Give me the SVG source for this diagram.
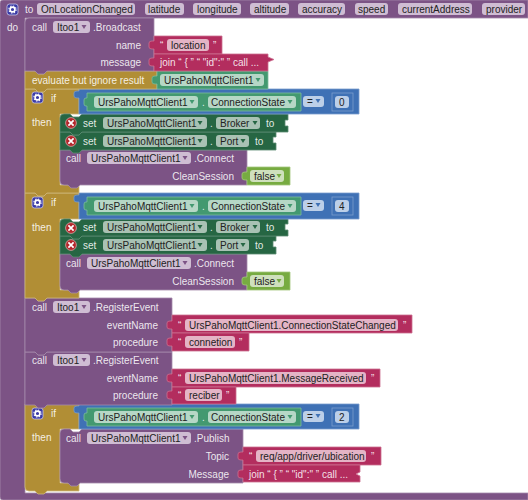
<svg xmlns="http://www.w3.org/2000/svg" width="528" height="500" viewBox="0 0 528 500">
<style>
text{font-family:"Liberation Sans",Arial,sans-serif;font-size:10px;fill:#fff;fill-opacity:.88;transform:translateY(-.5px)}
text.d{fill:#222;fill-opacity:1}
text.e{text-anchor:end}
.p{fill:#7c5385;stroke:#a48cab;stroke-width:.8}
.g{fill:#b18e35;stroke:#cdb77c;stroke-width:.8}
.s{fill:#266643;stroke:#5c8c72;stroke-width:.8}
.c{fill:#439970;stroke:#7bbb9c;stroke-width:.8}
.b{fill:#3f71b5;stroke:#7a9dcd;stroke-width:.8}
.t{fill:#b32d5e;stroke:#cc6f91;stroke-width:.8}
.l{fill:#77ab41;stroke:#a2c67c;stroke-width:.8}
.fp{fill:#cfbdd3}
.ft{fill:#e4b4c6}
.fc{fill:#b6d7c6}
.fs{fill:#a9c2b4}
.fb{fill:#bccfe8}
.fl{fill:#cfe0bd}
.tp{fill:#7c5385}
.tc{fill:#439970}
.tb{fill:#3f71b5}
.tl{fill:#77ab41}
.ts{fill:#266643}
</style>
<defs>
<g id="gear"><rect x="0" y="0" width="11" height="11" rx="2.5" fill="#3a3aa6" stroke="#c9c9ea" stroke-width=".8"/><circle cx="5.5" cy="5.5" r="2.4" fill="none" stroke="#fff" stroke-width="1.6"/><circle cx="5.5" cy="5.5" r="3.6" fill="none" stroke="#fff" stroke-width="1.1" stroke-dasharray="1.4 1.43"/></g>
<g id="err"><circle r="5.4" fill="#b3262b" stroke="#e3b7b8" stroke-width=".7"/><path d="M-2.6,-2.6L2.6,2.6M2.6,-2.6L-2.6,2.6" stroke="#fff" stroke-width="1.7"/></g>
<path id="tri" d="M-2.5,-2H2.5L0,2Z"/>
</defs>

<g id="event-onlocationchanged">
<path class="p" d="M3,0H528V18H25V493H528V500H3Q0,500 0,497V3Q0,0 3,0Z"/>
<use href="#gear" x="7" y="4"/>
<text x="25" y="13">to</text>
<rect class="fp" x="37" y="3" width="98" height="12" rx="3"/><text class="d" x="41" y="13">OnLocationChanged</text>
<rect class="fp" x="145" y="3" width="39" height="12" rx="3"/><text class="d" x="148" y="13">latitude</text>
<rect class="fp" x="193" y="3" width="48" height="12" rx="3"/><text class="d" x="197" y="13">longitude</text>
<rect class="fp" x="250" y="3" width="39" height="12" rx="3"/><text class="d" x="254" y="13">altitude</text>
<rect class="fp" x="298" y="3" width="47" height="12" rx="3"/><text class="d" x="302" y="13">accuracy</text>
<rect class="fp" x="355" y="3" width="33" height="12" rx="3"/><text class="d" x="358" y="13">speed</text>
<rect class="fp" x="398" y="3" width="74" height="12" rx="3"/><text class="d" x="402" y="13">currentAddress</text>
<rect class="fp" x="482" y="3" width="43" height="12" rx="3"/><text class="d" x="486" y="13">provider</text>
<text x="7" y="31">do</text>
</g>

<g id="if-3">
<path class="g" d="M25,404H35l3,3h6l3,-3H79V429H60V483H79V491H47l-3,3h-6l-3,-3H29Q25,491 25,487Z"/>
<use href="#gear" x="32" y="408"/><text x="51" y="417">if</text><text x="32" y="441">then</text>
<g id="call-publish">
<path class="p" d="M64,429H70l3,3h6l3,-3H243V447V483H80l-3,3h-6l-3,-3H64Q60,483 60,479V433Q60,429 64,429Z"/>
<text x="66" y="442">call</text>
<rect class="fp" x="87" y="432" width="104" height="12" rx="3"/><text class="d" x="91" y="442">UrsPahoMqttClient1</text><use href="#tri" class="tp" x="185" y="438"/>
<text x="194" y="442">.Publish</text>
<text class="e" x="229" y="460">Topic</text><text class="e" x="229" y="478">Message</text>
</g>
<g id="text-topic">
<path class="t" d="M243,447H381V465H243V460h-2q-3,0 -3,-2v-4q0,-2 3,-2h2Z"/>
<text x="249" y="460">“</text><rect class="ft" x="256" y="450" width="110" height="12" rx="3"/><text class="d" x="260" y="460">req/app/driver/ubication</text><text x="371" y="460">”</text>
</g>
<g id="join-message">
<path class="t" d="M243,465H360V472l-4,2 4,2V482H243V478h-2q-3,0 -3,-2v-4q0,-2 3,-2h2Z"/>
<text x="249" y="478">join “ { ” “ "id":" ” call ...</text>
</g>
<g id="equals-3">
<path class="b" d="M79,404H359V429H79V413h-2q-3,0 -3,-2v-3q0,-2 3,-2h2Z"/>
<path class="c" d="M87,408H301V426H87V421h-1q-2,0 -2,-2v-4q0,-2 2,-2h1Z"/>
<rect class="fc" x="94" y="411" width="104" height="12" rx="3"/><text class="d" x="98" y="421">UrsPahoMqttClient1</text><use href="#tri" class="tc" x="192" y="417"/>
<text x="202" y="421">.</text>
<rect class="fc" x="208" y="411" width="88" height="12" rx="3"/><text class="d" x="211" y="421">ConnectionState</text><use href="#tri" class="tc" x="290" y="417"/>
<rect class="fb" x="303" y="411" width="21" height="11" rx="3"/><text class="d" x="307" y="420">=</text><use href="#tri" class="tb" x="318" y="416"/>
<rect class="b" x="332" y="408" width="21" height="18"/><rect class="fb" x="335" y="411" width="14" height="12" rx="3"/><text class="d" x="339" y="421">2</text>
</g>
</g>

<g id="register-2">
<path class="p" d="M25,352H35l3,3h6l3,-3H172V405H47l-3,3h-6l-3,-3H25Z"/>
<text x="32" y="364">call</text>
<rect class="fp" x="53" y="354" width="37" height="12" rx="3"/><text class="d" x="57" y="364">Itoo1</text><use href="#tri" class="tp" x="84" y="360"/>
<text x="93" y="364">.RegisterEvent</text>
<text class="e" x="158" y="382">eventName</text><text class="e" x="158" y="399">procedure</text>
<path class="t" d="M172,369H380V387H172V382h-2q-3,0 -3,-2v-4q0,-2 3,-2h2Z"/>
<text x="178" y="382">“</text><rect class="ft" x="185" y="372" width="181" height="12" rx="3"/><text class="d" x="189" y="382">UrsPahoMqttClient1.MessageReceived</text><text x="371" y="382">”</text>
<path class="t" d="M172,387H236V404H172V399h-2q-3,0 -3,-2v-4q0,-2 3,-2h2Z"/>
<text x="178" y="399">“</text><rect class="ft" x="185" y="389" width="37" height="12" rx="3"/><text class="d" x="189" y="399">reciber</text><text x="226" y="399">”</text>
</g>

<g id="register-1">
<path class="p" d="M25,298H35l3,3h6l3,-3H172V352H47l-3,3h-6l-3,-3H25Z"/>
<text x="32" y="311">call</text>
<rect class="fp" x="53" y="301" width="37" height="12" rx="3"/><text class="d" x="57" y="311">Itoo1</text><use href="#tri" class="tp" x="84" y="307"/>
<text x="93" y="311">.RegisterEvent</text>
<text class="e" x="158" y="329">eventName</text><text class="e" x="158" y="346">procedure</text>
<path class="t" d="M172,315H412V333H172V329h-2q-3,0 -3,-2v-4q0,-2 3,-2h2Z"/>
<text x="178" y="329">“</text><rect class="ft" x="185" y="319" width="213" height="12" rx="3"/><text class="d" x="189" y="329">UrsPahoMqttClient1.ConnectionStateChanged</text><text x="403" y="329">”</text>
<path class="t" d="M172,333H249V351H172V346h-2q-3,0 -3,-2v-4q0,-2 3,-2h2Z"/>
<text x="178" y="346">“</text><rect class="ft" x="185" y="336" width="50" height="12" rx="3"/><text class="d" x="189" y="346">connetion</text><text x="239" y="346">”</text>
</g>

<g id="if-2">
<path class="g" d="M25,193H35l3,3h6l3,-3H79V219H60V290H79V298H47l-3,3h-6l-3,-3H25Z"/>
<use href="#gear" x="32" y="197"/><text x="51" y="206">if</text><text x="32" y="231">then</text>
<g id="call-connect-2">
<path class="p" d="M60,254H247V290H80l-3,3h-6l-3,-3H64Q60,290 60,286Z"/>
<text x="66" y="267">call</text>
<rect class="fp" x="87" y="257" width="104" height="12" rx="3"/><text class="d" x="91" y="267">UrsPahoMqttClient1</text><use href="#tri" class="tp" x="185" y="263"/>
<text x="194" y="267">.Connect</text>
<text class="e" x="234" y="285">CleanSession</text>
<path class="l" d="M247,272H290V290H247V285h-2q-3,0 -3,-2v-4q0,-2 3,-2h2Z"/>
<rect class="fl" x="250" y="275" width="34" height="12" rx="3"/><text class="d" x="254" y="285">false</text><use href="#tri" class="tl" x="279" y="281"/>
</g>
<g id="set-port-2">
<path class="s" d="M60,236H70l3,3h6l3,-3H276V241h-3v6h3V254H82l-3,3h-6l-3,-3H60Z"/>
<use href="#err" x="71" y="245"/><text x="83" y="249">set</text>
<rect class="fs" x="103" y="239" width="104" height="12" rx="3"/><text class="d" x="107" y="249">UrsPahoMqttClient1</text><use href="#tri" class="ts" x="200" y="245"/>
<text x="210" y="249">.</text>
<rect class="fs" x="216" y="239" width="33" height="12" rx="3"/><text class="d" x="220" y="249">Port</text><use href="#tri" class="ts" x="243" y="245"/>
<text x="255" y="249">to</text>
</g>
<g id="set-broker-2">
<path class="s" d="M64,219H70l3,3h6l3,-3H288V224h-3v6h3V236H82l-3,3h-6l-3,-3H60V223Q60,219 64,219Z"/>
<use href="#err" x="71" y="228"/><text x="83" y="231">set</text>
<rect class="fs" x="103" y="221" width="104" height="12" rx="3"/><text class="d" x="107" y="231">UrsPahoMqttClient1</text><use href="#tri" class="ts" x="200" y="227"/>
<text x="210" y="231">.</text>
<rect class="fs" x="216" y="221" width="44" height="12" rx="3"/><text class="d" x="220" y="231">Broker</text><use href="#tri" class="ts" x="255" y="227"/>
<text x="266" y="231">to</text>
</g>
<g id="equals-2">
<path class="b" d="M79,193H359V219H79V202h-2q-3,0 -3,-2v-3q0,-2 3,-2h2Z"/>
<path class="c" d="M87,197H301V215H87V210h-1q-2,0 -2,-2v-4q0,-2 2,-2h1Z"/>
<rect class="fc" x="94" y="200" width="104" height="12" rx="3"/><text class="d" x="98" y="210">UrsPahoMqttClient1</text><use href="#tri" class="tc" x="192" y="206"/>
<text x="202" y="210">.</text>
<rect class="fc" x="208" y="200" width="88" height="12" rx="3"/><text class="d" x="211" y="210">ConnectionState</text><use href="#tri" class="tc" x="290" y="206"/>
<rect class="fb" x="303" y="200" width="21" height="11" rx="3"/><text class="d" x="307" y="209">=</text><use href="#tri" class="tb" x="318" y="205"/>
<rect class="b" x="332" y="197" width="21" height="18"/><rect class="fb" x="335" y="200" width="14" height="12" rx="3"/><text class="d" x="339" y="210">4</text>
</g>
</g>

<g id="if-1">
<path class="g" d="M25,89H35l3,3h6l3,-3H79V114H60V185H79V193H47l-3,3h-6l-3,-3H25Z"/>
<use href="#gear" x="32" y="92"/><text x="51" y="102">if</text><text x="32" y="126">then</text>
<g id="call-connect-1">
<path class="p" d="M60,150H247V185H80l-3,3h-6l-3,-3H64Q60,185 60,181Z"/>
<text x="66" y="162">call</text>
<rect class="fp" x="87" y="152" width="104" height="12" rx="3"/><text class="d" x="91" y="162">UrsPahoMqttClient1</text><use href="#tri" class="tp" x="185" y="158"/>
<text x="194" y="162">.Connect</text>
<text class="e" x="234" y="180">CleanSession</text>
<path class="l" d="M247,167H290V185H247V180h-2q-3,0 -3,-2v-4q0,-2 3,-2h2Z"/>
<rect class="fl" x="250" y="170" width="34" height="12" rx="3"/><text class="d" x="254" y="180">false</text><use href="#tri" class="tl" x="279" y="176"/>
</g>
<g id="set-port-1">
<path class="s" d="M60,132H70l3,3h6l3,-3H276V137h-3v6h3V150H82l-3,3h-6l-3,-3H60Z"/>
<use href="#err" x="71" y="141"/><text x="83" y="145">set</text>
<rect class="fs" x="103" y="135" width="104" height="12" rx="3"/><text class="d" x="107" y="145">UrsPahoMqttClient1</text><use href="#tri" class="ts" x="200" y="141"/>
<text x="210" y="145">.</text>
<rect class="fs" x="216" y="135" width="33" height="12" rx="3"/><text class="d" x="220" y="145">Port</text><use href="#tri" class="ts" x="243" y="141"/>
<text x="255" y="145">to</text>
</g>
<g id="set-broker-1">
<path class="s" d="M64,114H70l3,3h6l3,-3H288V120h-3v6h3V132H82l-3,3h-6l-3,-3H60V118Q60,114 64,114Z"/>
<use href="#err" x="71" y="123"/><text x="83" y="127">set</text>
<rect class="fs" x="103" y="117" width="104" height="12" rx="3"/><text class="d" x="107" y="127">UrsPahoMqttClient1</text><use href="#tri" class="ts" x="200" y="123"/>
<text x="210" y="127">.</text>
<rect class="fs" x="216" y="117" width="44" height="12" rx="3"/><text class="d" x="220" y="127">Broker</text><use href="#tri" class="ts" x="255" y="123"/>
<text x="266" y="127">to</text>
</g>
<g id="equals-1">
<path class="b" d="M79,89H359V114H79V98h-2q-3,0 -3,-2v-3q0,-2 3,-2h2Z"/>
<path class="c" d="M87,93H301V111H87V106h-1q-2,0 -2,-2v-4q0,-2 2,-2h1Z"/>
<rect class="fc" x="94" y="96" width="104" height="12" rx="3"/><text class="d" x="98" y="106">UrsPahoMqttClient1</text><use href="#tri" class="tc" x="192" y="102"/>
<text x="202" y="106">.</text>
<rect class="fc" x="208" y="96" width="88" height="12" rx="3"/><text class="d" x="211" y="106">ConnectionState</text><use href="#tri" class="tc" x="290" y="102"/>
<rect class="fb" x="303" y="96" width="21" height="11" rx="3"/><text class="d" x="307" y="105">=</text><use href="#tri" class="tb" x="318" y="101"/>
<rect class="b" x="332" y="93" width="21" height="18"/><rect class="fb" x="335" y="96" width="14" height="12" rx="3"/><text class="d" x="339" y="106">0</text>
</g>
</g>

<g id="evaluate">
<path class="g" d="M25,71H35l3,3h6l3,-3H157V89H47l-3,3h-6l-3,-3H25Z"/>
<text x="32" y="84">evaluate but ignore result</text>
<path class="c" d="M157,71H268V89H157V84h-2q-3,0 -3,-2v-4q0,-2 3,-2h2Z"/>
<rect class="fc" x="160" y="74" width="104" height="12" rx="3"/><text class="d" x="164" y="84">UrsPahoMqttClient1</text><use href="#tri" class="tc" x="258" y="80"/>
</g>

<g id="call-broadcast">
<path class="p" d="M29,18H154V71H47l-3,3h-6l-3,-3H25V22Q25,18 29,18Z"/>
<text x="32" y="31">call</text>
<rect class="fp" x="53" y="21" width="37" height="12" rx="3"/><text class="d" x="57" y="31">Itoo1</text><use href="#tri" class="tp" x="84" y="27"/>
<text x="93" y="31">.Broadcast</text>
<text class="e" x="141" y="49">name</text><text class="e" x="141" y="66">message</text>
<path class="t" d="M154,36H222V54H154V49h-2q-3,0 -3,-2v-4q0,-2 3,-2h2Z"/>
<text x="160" y="49">“</text><rect class="ft" x="167" y="39" width="42" height="12" rx="3"/><text class="d" x="171" y="49">location</text><text x="213" y="49">”</text>
<path class="t" d="M154,54H268V57l6,2.500 -6,2.500V71H154V66h-2q-3,0 -3,-2v-4q0,-2 3,-2h2Z"/>
<text x="160" y="66">join “ { ” “ "id":" ” call ...</text>
</g>
</svg>
